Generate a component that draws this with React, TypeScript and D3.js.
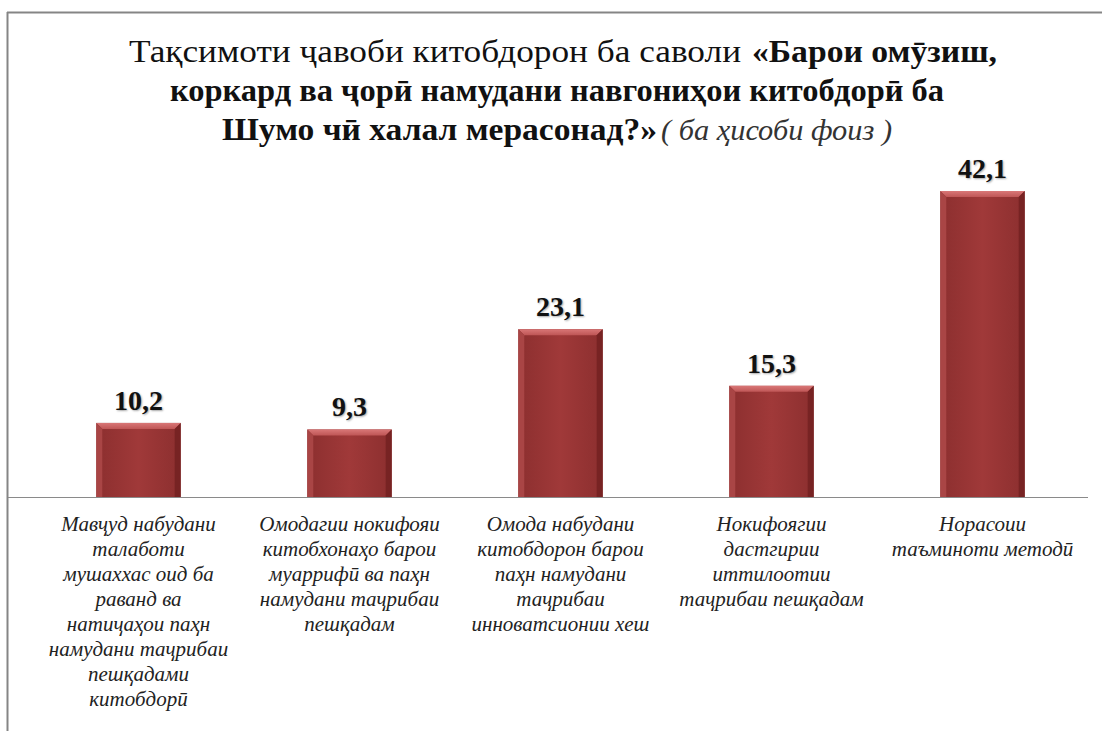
import React from 'react';
import * as d3 from 'd3';

const categories = ['c1', 'c2', 'c3', 'c4', 'c5'];
const values = [10.2, 9.3, 23.1, 15.3, 42.1];
const valueLabels = ['10,2', '9,3', '23,1', '15,3', '42,1'];
const categoryLines = [
    ['Мавҷуд набудани', 'талаботи', 'мушаххас оид ба', 'раванд ва', 'натиҷаҳои паҳн', 'намудани таҷрибаи', 'пешқадами', 'китобдорӣ'],
    ['Омодагии нокифояи', 'китобхонаҳо барои', 'муаррифӣ ва паҳн', 'намудани таҷрибаи', 'пешқадам'],
    ['Омода набудани', 'китобдорон барои', 'паҳн намудани', 'таҷрибаи', 'инноватсионии хеш'],
    ['Нокифоягии', 'дастгирии', 'иттилоотии', 'таҷрибаи пешқадам'],
    ['Норасоии', 'таъминоти методӣ'],
];
const titleLine1Normal = 'Тақсимоти ҷавоби китобдорон ба саволи';
const titleLine1Bold = '«Барои омӯзиш,';
const titleLine2 = 'коркард ва ҷорӣ намудани навгониҳои китобдорӣ ба';
const titleLine3Bold = 'Шумо чӣ халал мерасонад?»';
const titleLine3Italic = '( ба ҳисоби фоиз )';

const W = 1102;
const H = 731;
const BASE_Y = 497;
const FONT_STACK = "'Liberation Serif', 'Times New Roman', 'DejaVu Serif'";
const SERIF = { fontFamily: FONT_STACK };

const x = d3.scaleBand<string>()
    .domain(categories)
    .range([33, 1088])
    .paddingInner(0.6)
    .paddingOuter(0.3);

const y = d3.scaleLinear()
    .domain([0, 45])
    .range([BASE_Y, 170]);

const BEVEL = 6;
const LABEL_SX = 1.0;

const App = () => {
    const bw = x.bandwidth();
    const data = categories.map((c, i) => ({ c, v: values[i], label: valueLabels[i], lines: categoryLines[i] }));

    return (
        <svg width={W} height={H} fontFamily={FONT_STACK}
            style={{ position: 'absolute', left: 0, top: 0, background: '#fff', fontFamily: FONT_STACK }}>
            <defs>
                <linearGradient id="barBody" x1="0" x2="1" y1="0" y2="0">
                    <stop offset="0%" stopColor="#8c2f2f" />
                    <stop offset="50%" stopColor="#a03939" />
                    <stop offset="100%" stopColor="#8c2f2f" />
                </linearGradient>
                <linearGradient id="barTop" x1="0" x2="0" y1="0" y2="1">
                    <stop offset="0%" stopColor="#d97777" />
                    <stop offset="100%" stopColor="#bf5656" />
                </linearGradient>
            </defs>

            {/* frame */}
            <line x1={7} x2={W} y1={12.5} y2={12.5} stroke="#858585" strokeWidth={2} />
            <line x1={7.5} x2={7.5} y1={12} y2={H} stroke="#858585" strokeWidth={2} />

            {/* title */}
            <g fill="#111">
                <text x={129} y={62} fontSize={32} textLength={612} lengthAdjust="spacingAndGlyphs" style={SERIF}>{titleLine1Normal}</text>
                <text x={752} y={62} fontSize={32} fontWeight="bold" textLength={245} lengthAdjust="spacingAndGlyphs" style={SERIF}>{titleLine1Bold}</text>
                <text x={170} y={101} fontSize={32} fontWeight="bold" textLength={774} lengthAdjust="spacingAndGlyphs" style={SERIF}>{titleLine2}</text>
                <text x={222} y={140} fontSize={32} fontWeight="bold" textLength={435} lengthAdjust="spacingAndGlyphs" style={SERIF}>{titleLine3Bold}</text>
                <text x={661} y={140} fontSize={29} fontStyle="italic" fill="#333" textLength={231} lengthAdjust="spacingAndGlyphs" style={SERIF}>{titleLine3Italic}</text>
            </g>

            {/* bars */}
            {data.map(d => {
                const x0 = x(d.c)!;
                const t = y(d.v);
                return (
                    <g key={d.c}>
                        <rect x={x0} y={t} width={bw} height={BASE_Y - t} fill="url(#barBody)" />
                        <polygon points={`${x0},${t} ${x0 + bw},${t} ${x0 + bw - BEVEL},${t + BEVEL} ${x0 + BEVEL},${t + BEVEL}`} fill="url(#barTop)" />
                        <polygon points={`${x0},${t} ${x0 + BEVEL},${t + BEVEL} ${x0 + BEVEL},${BASE_Y} ${x0},${BASE_Y}`} fill="#a94545" />
                        <polygon points={`${x0 + bw},${t} ${x0 + bw - BEVEL},${t + BEVEL} ${x0 + bw - BEVEL},${BASE_Y} ${x0 + bw},${BASE_Y}`} fill="#772323" />
                        <text x={x0 + bw / 2} y={t - 13} textAnchor="middle" fontSize={28} fontWeight="bold" fill="#111"
                            style={{ ...SERIF, textShadow: '1px 1px 2px rgba(0,0,0,0.35)' }}>{d.label}</text>
                    </g>
                );
            })}

            {/* axis line */}
            <line x1={8} x2={1088} y1={BASE_Y + 0.5} y2={BASE_Y + 0.5} stroke="#8a8a8a" strokeWidth={1} />

            {/* category labels */}
            {data.map(d => {
                const cx = x(d.c)! + bw / 2;
                return (
                    <text key={d.c} transform={`translate(${cx},531) scale(${LABEL_SX},1)`} textAnchor="middle"
                        fontSize={21} fontStyle="italic" fill="#222" style={SERIF}>
                        {d.lines.map((ln, j) => (
                            <tspan key={j} x={0} y={j * 25}>{ln}</tspan>
                        ))}
                    </text>
                );
            })}
        </svg>
    );
};

export default App;
